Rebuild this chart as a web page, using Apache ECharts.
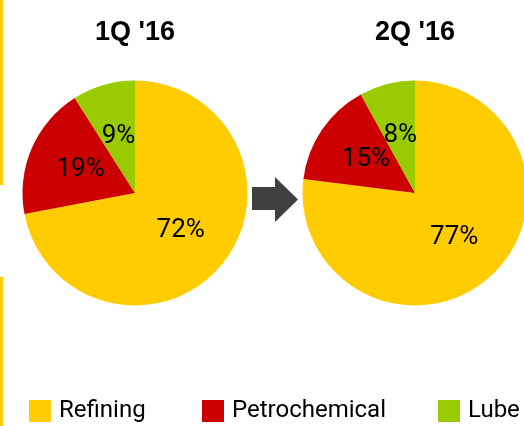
<!DOCTYPE html>
<html>
<head>
<meta charset="utf-8">
<script src="https://cdn.jsdelivr.net/npm/echarts@6/dist/echarts.min.js"></script>
<style>
  html, body { margin: 0; padding: 0; background: #fff; }
  #chart { width: 524px; height: 426px; }
</style>
</head>
<body>
<div id="chart"></div>
<script>
// Segment mix per quarter (%)
const categories = ['Refining', 'Petrochemical', 'Lube'];
const periods = ["1Q '16", "2Q '16"];
const q1Values = [72, 19, 9];
const q2Values = [77, 15, 8];

const colors = ['#FFCC00', '#CC0000', '#99CC00'];
const bodyFont = 'Roboto, "Liberation Sans", Arial, sans-serif';
const titleFont = '"Liberation Sans", Arial, sans-serif';

const centers = [[135, 193], [415, 193]];
const radius = 112.5;
const legendLeft = [29, 202, 438];

function pieSeries(name, values, center) {
  return {
    name: name,
    type: 'pie',
    center: center,
    radius: radius,
    startAngle: 90,
    clockwise: true,
    silent: true,
    avoidLabelOverlap: false,
    labelLayout: { hideOverlap: false },
    label: {
      show: true,
      position: 'inside',
      formatter: '{c}%',
      color: '#000',
      fontFamily: bodyFont,
      fontSize: 26
    },
    labelLine: { show: false },
    itemStyle: { borderWidth: 0 },
    data: categories.map((c, i) => ({ name: c, value: values[i] }))
  };
}

const chart = echarts.init(document.getElementById('chart'), null, { renderer: 'canvas' });
chart.setOption({
  animation: false,
  color: colors,
  title: periods.map((p, i) => ({
    text: p,
    left: centers[i][0] - 5,
    top: 14,
    textAlign: 'center',
    textStyle: { fontFamily: titleFont, fontWeight: 'bold', fontSize: 27, color: '#000' }
  })),
  legend: categories.map((c, i) => ({
    data: [c],
    left: legendLeft[i],
    top: 399,
    padding: 0,
    icon: 'rect',
    itemWidth: 22,
    itemHeight: 22,
    selectedMode: false,
    textStyle: { fontFamily: bodyFont, fontSize: 24, color: '#000', padding: [0, 0, 0, 3] }
  })),
  graphic: [
    // yellow rule along the left edge
    { type: 'rect', shape: { x: 0, y: 0, width: 3, height: 185 }, style: { fill: '#FFCC00' }, silent: true },
    { type: 'rect', shape: { x: 0, y: 277, width: 3, height: 149 }, style: { fill: '#FFCC00' }, silent: true },
    // arrow between the two quarters
    {
      type: 'polygon',
      silent: true,
      shape: { points: [[252, 187], [275, 187], [275, 177], [298, 199.5], [275, 222], [275, 210], [252, 210]] },
      style: { fill: '#404040' }
    }
  ],
  series: [
    pieSeries(periods[0], q1Values, centers[0]),
    pieSeries(periods[1], q2Values, centers[1])
  ]
});
</script>
</body>
</html>
